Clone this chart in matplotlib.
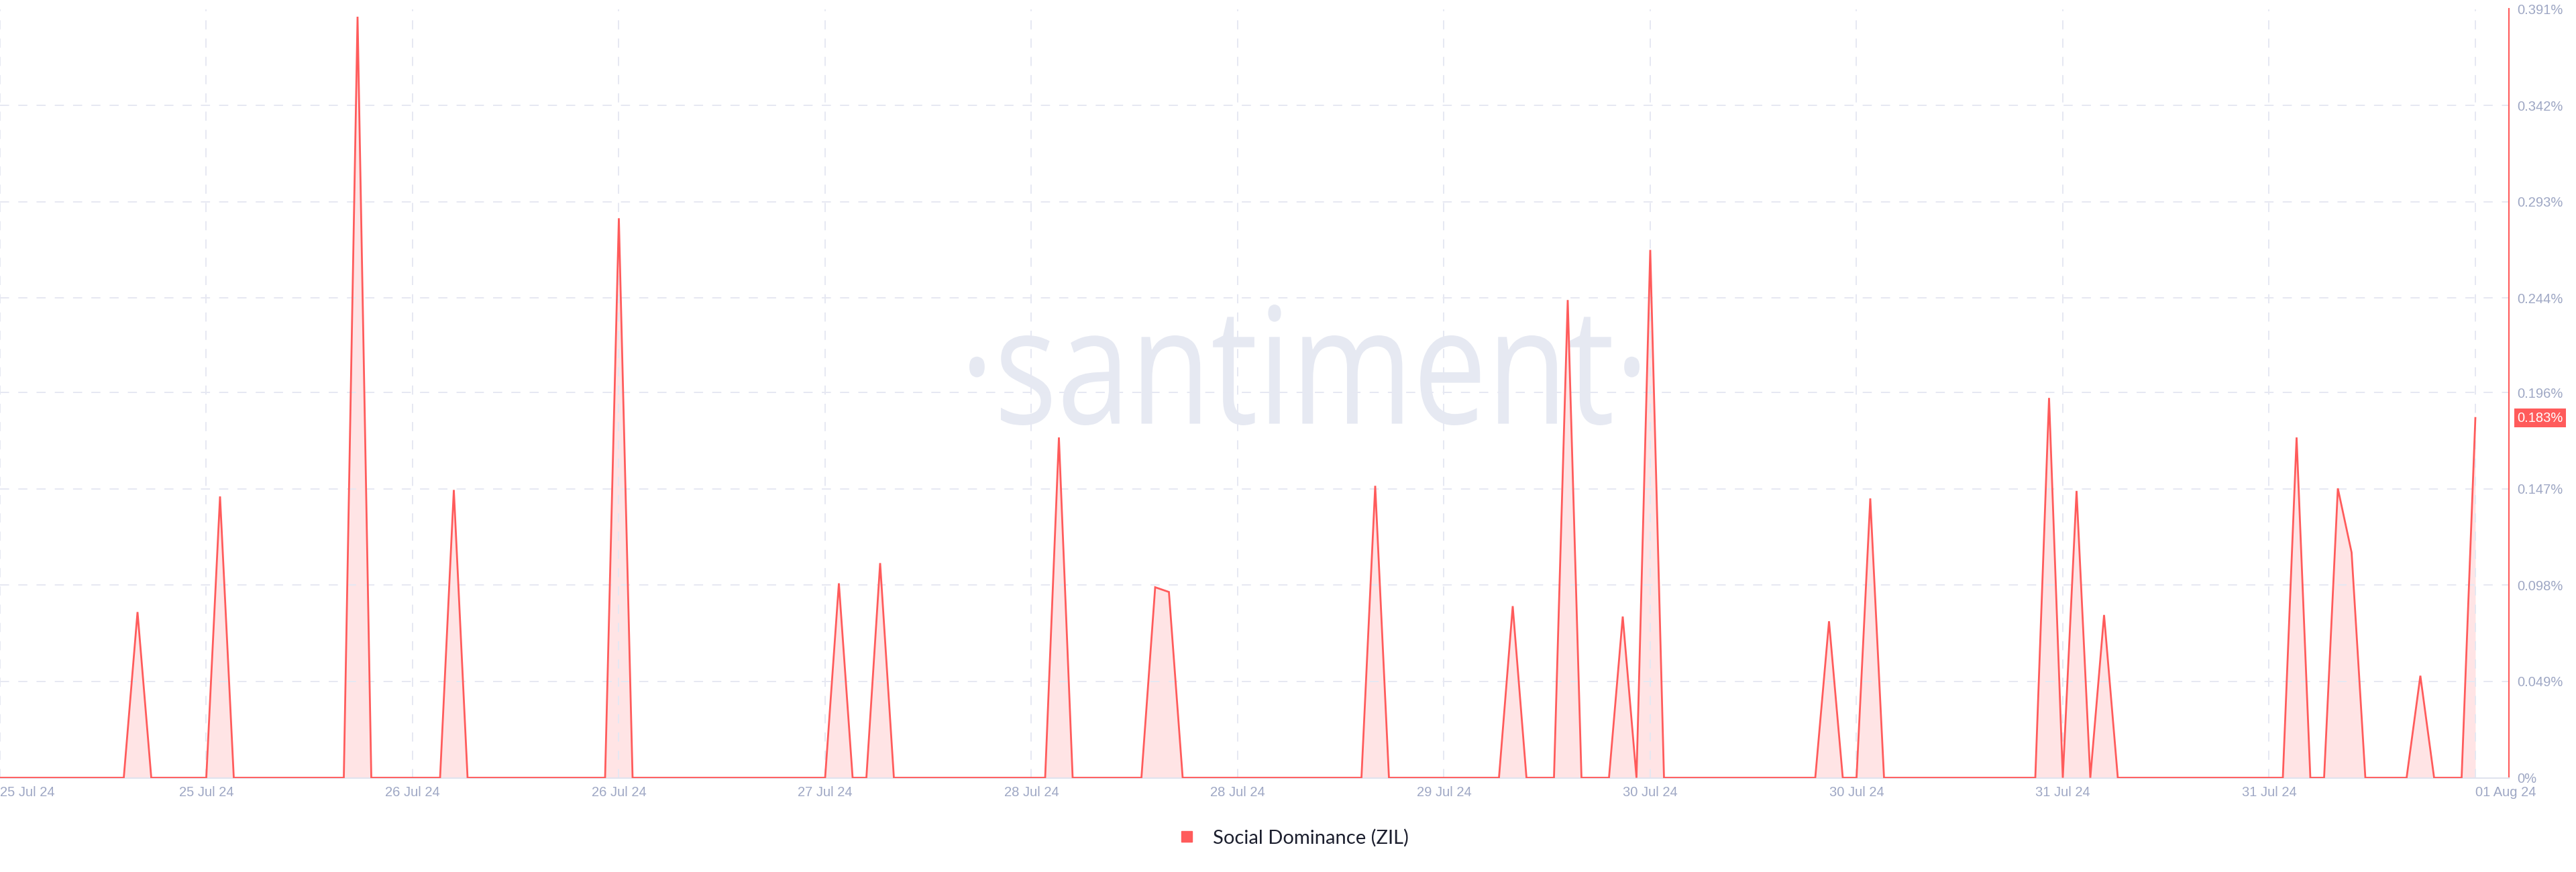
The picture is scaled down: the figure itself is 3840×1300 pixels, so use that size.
import matplotlib
matplotlib.use("Agg")
import matplotlib.pyplot as plt
import numpy as np
import pandas as pd
from matplotlib.textpath import TextPath
from matplotlib.font_manager import FontProperties
from matplotlib.patches import PathPatch
from matplotlib.transforms import Affine2D
from matplotlib.lines import Line2D

# hourly social dominance of ZIL, in percent (one row = 15 hours)
dominance = [
    0, 0, 0, 0, 0, 0, 0, 0, 0, 0, 0.0843, 0, 0, 0, 0,
    0, 0.1431, 0, 0, 0, 0, 0, 0, 0, 0, 0, 0.3871, 0, 0, 0,
    0, 0, 0, 0.1464, 0, 0, 0, 0, 0, 0, 0, 0, 0, 0, 0,
    0.2846, 0, 0, 0, 0, 0, 0, 0, 0, 0, 0, 0, 0, 0, 0,
    0, 0.0989, 0, 0, 0.1092, 0, 0, 0, 0, 0, 0, 0, 0, 0, 0,
    0, 0, 0.1731, 0, 0, 0, 0, 0, 0, 0.0969, 0.0945, 0, 0, 0, 0,
    0, 0, 0, 0, 0, 0, 0, 0, 0, 0, 0.1485, 0, 0, 0, 0,
    0, 0, 0, 0, 0, 0.0873, 0, 0, 0, 0.2430, 0, 0, 0, 0.0820, 0,
    0.2685, 0, 0, 0, 0, 0, 0, 0, 0, 0, 0, 0, 0, 0.0796, 0,
    0, 0.1421, 0, 0, 0, 0, 0, 0, 0, 0, 0, 0, 0, 0, 0.1932,
    0, 0.1459, 0, 0.0828, 0, 0, 0, 0, 0, 0, 0, 0, 0, 0, 0,
    0, 0, 0.1731, 0, 0, 0.1472, 0.1146, 0, 0, 0, 0, 0.0519, 0, 0, 0,
    0.183,
]
dates = pd.date_range("2024-07-25 01:00", periods=len(dominance), freq="h")

y_ticks = [0, 0.049, 0.098, 0.147, 0.196, 0.244, 0.293, 0.342, 0.391]
y_labels = ["0%", "0.049%", "0.098%", "0.147%", "0.196%", "0.244%", "0.293%", "0.342%", "0.391%"]
last_label = "0.183%"
series_name = "Social Dominance (ZIL)"

RED = "#ff5b5b"
FILL = "#ffe4e5"
GRID = "#e6e8f2"
TICK = "#9ea7c4"

W, H = 3840, 1300
fig = plt.figure(figsize=(W / 100, H / 100), dpi=100)
fig.patch.set_facecolor("white")
ax = fig.add_axes([0, 1 - 1159.5 / H, 3740 / W, (1159.5 - 13.5) / H])
ax.set_facecolor("none")

# watermark
tp = TextPath((0, 0), "\u00b7santiment\u00b7", size=100, prop=FontProperties(family="Open Sans"))
ext = tp.get_extents()
sx = (2444 - 1445) / ext.width
sy = (634 - 454) / ext.height
tr = (Affine2D().translate(-ext.x0, -ext.y0).scale(sx / 100, sy / 100)
      .translate(1445 / 100, (H - 634) / 100) + fig.dpi_scale_trans)
ax.add_artist(PathPatch(tp, transform=tr, facecolor="#e6e9f2", edgecolor="none", zorder=0.5))

ax.fill_between(dates, dominance, 0, color=FILL, lw=0, zorder=1)
ax.plot(dates, dominance, color=RED, lw=2.0, zorder=3, solid_joinstyle="miter")

step = dates[1] - dates[0]
ax.set_xlim(dates[0], dates[0] + step * 182.44)
ax.set_ylim(0, 0.391)

ticks = dates[::15]
ax.set_xticks(ticks, labels=[d.strftime("%d %b %y") for d in ticks])
ax.set_yticks(y_ticks, labels=y_labels)
ax.yaxis.tick_right()

ax.grid(True, color=GRID, lw=1.4, linestyle=(0, (7, 7)), zorder=1.5)
ax.tick_params(axis="both", length=0, labelsize=14.5, labelcolor=TICK)
ax.tick_params(axis="x", pad=9)
ax.tick_params(axis="y", pad=8.6)
for lab in ax.get_xticklabels() + ax.get_yticklabels():
    lab.set_fontfamily("Liberation Sans")
xl = ax.get_xticklabels()
xl[0].set_ha("left")
xl[-1].set_ha("left")

for s in ["left", "top"]:
    ax.spines[s].set_visible(False)
ax.spines["bottom"].set_color("#dfe3ee")
ax.spines["bottom"].set_linewidth(1.5)
ax.spines["right"].set_color(RED)
ax.spines["right"].set_linewidth(1.5)

ax.annotate(last_label, xy=(1, dominance[-1]), xycoords=ax.get_yaxis_transform(),
            xytext=(8.6, 0), textcoords="offset points", ha="left", va="center",
            color="white", fontsize=14.5, family="Liberation Sans",
            bbox=dict(boxstyle="square,pad=0.22", fc=RED, ec="none"))

handle = Line2D([], [], marker="s", color=RED, linestyle="none", markersize=12)
leg = fig.legend([handle], [series_name], loc="center", bbox_to_anchor=(0.5, 1 - 1249 / H),
                 frameon=False, handletextpad=0.35, prop=FontProperties(family="Lato", size=21))
for t in leg.get_texts():
    t.set_color("#1c1f2e")

fig.savefig("out.png", dpi=100, facecolor="white")
